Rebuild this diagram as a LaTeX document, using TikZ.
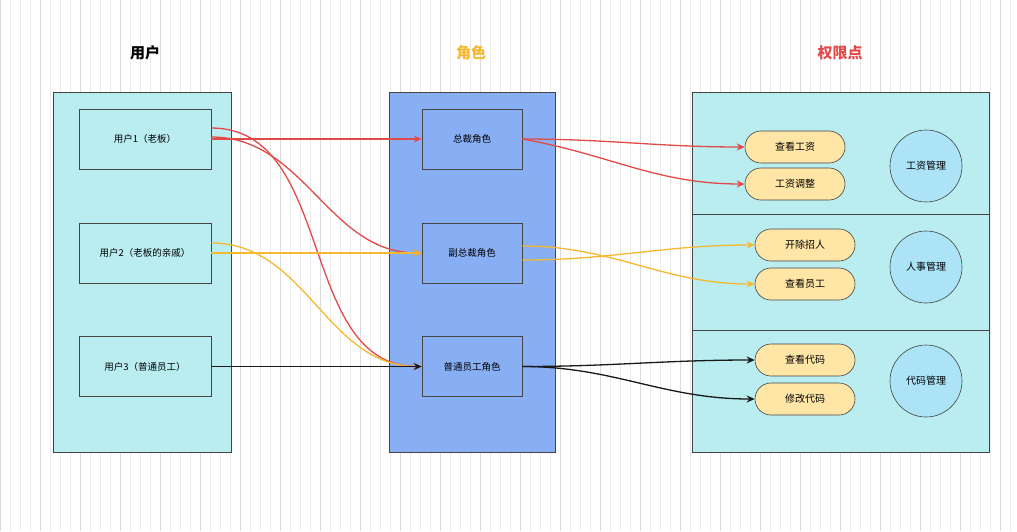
\documentclass[tikz,border=0pt]{standalone}
\usepackage{fontspec}
\setmainfont{Noto Sans CJK SC}
\usetikzlibrary{arrows.meta}
\definecolor{panelc}{HTML}{B9EDF0}
\definecolor{rolec}{HTML}{88AEF4}
\definecolor{pillc}{HTML}{FFE6A6}
\definecolor{circc}{HTML}{ACE3F7}
\definecolor{redc}{HTML}{E24A4A}
\definecolor{orc}{HTML}{F6B830}
\definecolor{edge}{HTML}{444444}
\begin{document}
\begin{tikzpicture}[x=1pt,y=-1pt,
  panel/.style={draw=edge,fill=panelc,line width=0.6pt},
  box/.style={draw=edge,line width=0.6pt,minimum width=132pt,minimum height=60pt,font=\fontsize{9.5}{11}\selectfont},
  role/.style={draw=edge,fill=rolec,line width=0.6pt,minimum width=100pt,minimum height=60pt,font=\fontsize{9.5}{11}\selectfont},
  pill/.style={draw=edge,fill=pillc,rounded corners=16pt,line width=0.6pt,minimum width=100pt,minimum height=32pt,font=\fontsize{10}{12}\selectfont},
  circ/.style={draw=edge,fill=circc,circle,line width=0.6pt,minimum size=72pt,inner sep=0pt,font=\fontsize{10}{12}\selectfont},
  title/.style={font=\fontsize{15}{18}\selectfont\bfseries},
  con/.style={line width=1.3pt,-{Stealth[length=8pt,width=7pt]}}]
\useasboundingbox (0,0) rectangle (1017,531);
\fill[white] (0,0) rectangle (1017,531);
\draw[black!8,line width=0.4pt,step=10] (0,0) grid (1017,531);
\draw[black!14,line width=0.5pt,step=40] (0,0) grid (1017,531);
% titles
\node[title] (t1) at (145,53) {用户};
\node[title,text=orc] (t2) at (471,53) {角色};
\node[title,text=redc] (t3) at (840,53) {权限点};
% panels
\draw[panel] (53,92) rectangle (231,452);
\draw[panel,fill=rolec] (389,92) rectangle (555,452);
\draw[panel] (692,92) rectangle (989,452);
\draw[edge,line width=0.6pt] (692,214) -- (989,214) (692,330) -- (989,330);
% users
\node[box] (u1) at (145,139) {用户1（老板）};
\node[box] (u2) at (145,253) {用户2（老板的亲戚）};
\node[box] (u3) at (145,366.5) {用户3（普通员工）};
% roles
\node[role] (r1) at (472,139) {总裁角色};
\node[role] (r2) at (472,253) {副总裁角色};
\node[role] (r3) at (472,366.5) {普通员工角色};
% permissions
\node[circ] (c1) at (926,166) {工资管理};
\node[circ] (c2) at (926,267) {人事管理};
\node[circ] (c3) at (926,381) {代码管理};
\node[pill] (p1) at (795,147) {查看工资};
\node[pill] (p2) at (795,184) {工资调整};
\node[pill] (p3) at (805,245) {开除招人};
\node[pill] (p4) at (805,284) {查看员工};
\node[pill] (p5) at (805,360) {查看代码};
\node[pill] (p6) at (805,399) {修改代码};
% connectors
\draw[con,redc] (u1.east) -- (r1.west);
\draw[con,redc] ([yshift=2]u1.east) to[out=0,in=180] (r2.west);
\draw[con,redc] ([yshift=11]u1.east) to[out=0,in=180] (r3.west);
\draw[con,redc] (r1.east) to[out=0,in=180] (p1.west);
\draw[con,redc] (r1.east) to[out=-10,in=180] (p2.west);
\draw[con,orc] (u2.east) -- (r2.west);
\draw[con,orc] ([yshift=10]u2.east) to[out=0,in=180] (r3.west);
\draw[con,orc] ([yshift=-7]r2.east) to[out=0,in=180] (p3.west);
\draw[con,orc] ([yshift=7]r2.east) to[out=0,in=180] (p4.west);
\draw[con,black!90] (u3.east) -- (r3.west);
\draw[con,black!90] (r3.east) to[out=0,in=180] (p5.west);
\draw[con,black!90] (r3.east) to[out=0,in=180] (p6.west);
\end{tikzpicture}
\end{document}
